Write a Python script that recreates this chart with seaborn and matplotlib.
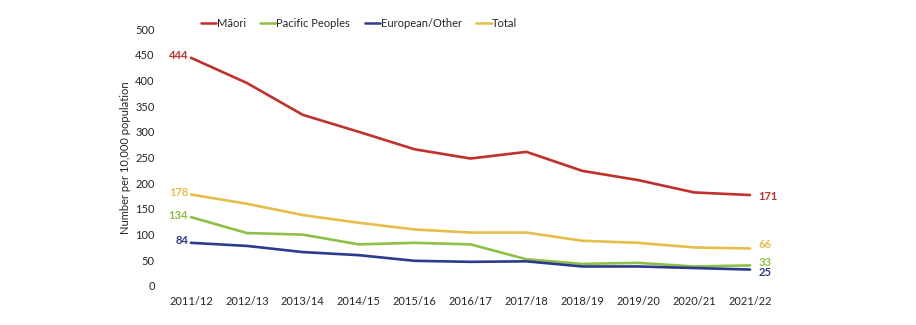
import matplotlib
matplotlib.use("Agg")
import matplotlib.pyplot as plt
import seaborn as sns
import pandas as pd

years = ["2011/12", "2012/13", "2013/14", "2014/15", "2015/16", "2016/17",
         "2017/18", "2018/19", "2019/20", "2020/21", "2021/22"]
maori = [444, 395, 333, 300, 266, 248, 261, 224, 206, 182, 177]
pacific = [134, 103, 100, 81, 84, 81, 52, 43, 45, 38, 40]
european = [84, 78, 66, 60, 49, 47, 48, 38, 38, 35, 32]
total = [178, 160, 138, 123, 110, 104, 104, 88, 84, 75, 73]
series_names = ["Māori", "Pacific Peoples", "European/Other", "Total"]
first_labels = ["444", "134", "84", "178"]
last_labels = ["171", "33", "25", "66"]
colors = ["#C0312B", "#8DC044", "#2B3A8C", "#E6BE4A"]

sns.set_theme(style="white")
plt.rcParams["font.family"] = ["Lato", "DejaVu Sans"]

values = [maori, pacific, european, total]
df = pd.DataFrame({
    "year": years * 4,
    "idx": list(range(len(years))) * 4,
    "value": maori + pacific + european + total,
    "series": sum([[n] * len(years) for n in series_names], []),
})

fig = plt.figure(figsize=(9.16, 3.25), dpi=100)
ax = fig.add_axes([163 / 916, 1 - 286 / 325, (778 - 163) / 916, (286 - 29) / 325])
sns.lineplot(data=df, x="idx", y="value", hue="series", hue_order=series_names,
             palette=colors, linewidth=1.9, ax=ax, legend=True)

ax.set_xlim(-0.5, len(years) - 0.5)
ax.set_ylim(0, 500)
ax.set_yticks(range(0, 501, 50))
ax.set_xticks(range(len(years)))
ax.set_xticklabels(years)
ax.tick_params(axis="both", labelsize=8, colors="#262626", length=0)
ax.tick_params(axis="x", pad=7)
ax.tick_params(axis="y", pad=6)
for s in ax.spines.values():
    s.set_visible(False)
ax.set_xlabel("")
ax.set_ylabel("Number per 10,000 population", fontsize=8, color="#262626", labelpad=3)

for i, (vals, c) in enumerate(zip(values, colors)):
    ax.annotate(first_labels[i], xy=(0, vals[0]), xytext=(-2, 1.5), textcoords="offset points",
                ha="right", va="center", fontsize=8, fontweight="bold", color=c)
end_off = [-1, 2, -2, 3]
for i, (vals, c) in enumerate(zip(values, colors)):
    ax.annotate(last_labels[i], xy=(len(years) - 1, vals[-1]), xytext=(6, end_off[i]),
                textcoords="offset points", ha="left", va="center", fontsize=8,
                fontweight="bold", color=c)

leg = ax.legend(loc="upper center", bbox_to_anchor=(359 / 916, 1 - 8 / 325),
                bbox_transform=fig.transFigure, ncol=4, frameon=False, fontsize=8,
                handlelength=1.4, handletextpad=0.05, columnspacing=1.3)
for line in leg.get_lines():
    line.set_linewidth(1.8)

fig.savefig("out.png", dpi=100)
